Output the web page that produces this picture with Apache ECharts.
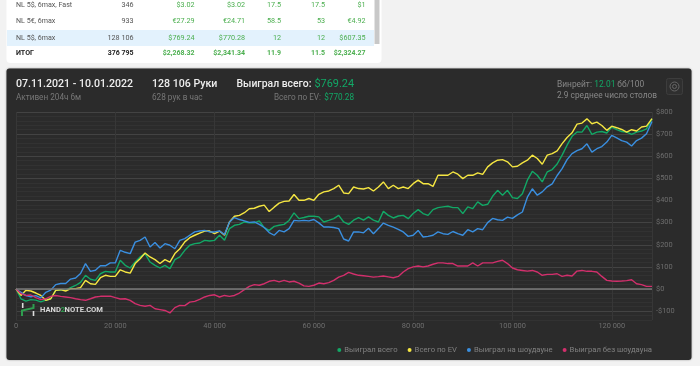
<!DOCTYPE html>
<html><head><meta charset="utf-8">
<style>html,body{margin:0;padding:0;background:#f2f2f2}#c{width:700px;height:366px}</style>
<script src="https://cdn.jsdelivr.net/npm/echarts@6/dist/echarts.min.js"></script>
</head><body><div id="c"></div>
<script>
const hands=[0,1000,2000,3000,4000,5000,6000,7000,8000,9000,
10000,11000,12000,13000,14000,15000,16000,17000,18000,19000,
20000,21000,22000,23000,24000,25000,26000,27000,28000,29000,
30000,31000,32000,33000,34000,35000,36000,37000,38000,39000,
40000,41000,42000,43000,44000,45000,46000,47000,48000,49000,
50000,51000,52000,53000,54000,55000,56000,57000,58000,59000,
60000,61000,62000,63000,64000,65000,66000,67000,68000,69000,
70000,71000,72000,73000,74000,75000,76000,77000,78000,79000,
80000,81000,82000,83000,84000,85000,86000,87000,88000,89000,
90000,91000,92000,93000,94000,95000,96000,97000,98000,99000,
100000,101000,102000,103000,104000,105000,106000,107000,108000,109000,
110000,111000,112000,113000,114000,115000,116000,117000,118000,119000,
120000,121000,122000,123000,124000,125000,126000,127000,128106];
const totalWon=[0,-44,-55,-48,-50,-58,-50,-44,-6,-3,
-6,6,16,30,62,44,39,69,80,77,
77,130,107,95,122,145,160,122,107,95,
107,92,133,145,175,198,205,208,220,217,
220,243,220,273,288,292,303,299,299,308,
277,265,283,288,292,310,344,318,323,329,
329,326,303,310,318,333,303,292,311,323,
311,326,311,303,351,333,321,330,333,318,
341,359,341,333,359,368,371,374,368,368,
341,371,363,394,378,383,419,446,424,446,
413,409,431,492,532,514,484,529,540,565,
605,650,690,710,709,739,699,709,712,705,
732,720,712,709,699,709,714,724,769];
const totalEV=[0,-29,-6,-9,-18,-29,-51,-44,-6,-3,
-9,2,2,6,39,24,21,51,62,57,
57,87,77,72,115,137,163,145,133,115,
133,122,160,182,213,232,243,253,262,262,
250,262,243,303,329,333,345,363,365,374,
379,350,370,388,396,398,427,401,401,409,
401,428,439,443,454,469,434,431,461,454,
452,458,443,461,484,454,469,454,461,454,
476,492,476,476,464,514,514,514,529,519,
499,514,514,525,518,552,570,582,585,575,
552,555,570,582,605,590,564,605,612,624,
657,685,706,745,750,769,747,754,739,717,
736,729,721,709,720,714,732,736,770];
const showdown=[0,-15,-30,-35,-30,-40,-15,-5,20,25,
25,45,50,70,115,80,85,105,105,118,
118,175,166,160,212,220,235,190,210,185,
205,198,182,220,228,243,258,262,265,258,
258,262,246,303,323,314,308,301,303,292,
278,255,243,265,258,273,310,308,310,308,
314,299,280,280,278,273,226,217,258,258,
254,275,250,273,298,288,280,270,258,238,
243,265,235,238,243,258,250,247,260,250,
243,268,258,273,268,300,319,313,310,325,
319,335,348,415,453,424,439,462,475,513,
544,585,612,625,634,656,619,634,644,664,
694,683,671,664,646,671,682,702,757];
const nonShowdown=[0,-21,-29,-27,-39,-48,-44,-33,-29,-33,
-36,-39,-44,-48,-51,-44,-36,-33,-33,-32,
-39,-45,-44,-51,-66,-74,-78,-74,-89,-93,
-97,-108,-84,-74,-75,-59,-56,-47,-36,-29,
-26,-36,-29,-33,-29,-18,-3,12,20,17,
24,35,39,32,39,32,35,27,14,12,
17,27,24,29,39,54,62,75,68,62,
60,57,54,56,59,55,51,57,77,92,
100,104,100,104,112,118,118,115,115,104,
104,104,118,104,118,118,118,125,130,115,
95,87,84,81,84,77,62,66,66,69,
57,62,59,81,84,80,80,77,57,39,
36,35,36,38,42,24,20,12,12];
const seriesNames=['Выиграл всего','Всего по EV','Выиграл на шоудауне','Выиграл без шоудауна'];
const tableRows=[
 ['NL 5$, 6max, Fast','346','$3.02','$3.02','17.5','17.5','$1'],
 ['NL 5€, 6max','933','€27.29','€24.71','58.5','53','€4.92'],
 ['NL 5$, 6max','128 106','$769.24','$770.28','12','12','$607.35'],
 ['ИТОГ','376 795','$2,268.32','$2,341.34','11.9','11.5','$2,324.27']];

const F='Roboto, sans-serif', G='#12a866';
const colX=[133.5,194.5,245,281,325,365.5], rowY=[5,21.5,38,53.5];
const g=[];
const T=(x,y,text,fill,size,o={})=>g.push({type:'text',z:o.z||5,x,y,silent:true,style:{text,fill,font:(o.w||400)+' '+size+'px '+F,textAlign:o.a||'left',textVerticalAlign:'middle'}});
// table card
g.push({type:'rect',z:-10,silent:true,shape:{x:6.5,y:-6,width:375,height:69,r:4},style:{fill:'#fff'}});
g.push({type:'rect',z:-9,silent:true,shape:{x:7,y:30,width:367,height:16},style:{fill:'#e3f2fd'}});
g.push({type:'rect',z:-9,silent:true,shape:{x:374.5,y:0,width:5,height:44},style:{fill:'#c8c8c8'}});
tableRows.forEach((r,i)=>{
  const tot=i===3;
  T(16,rowY[i],r[0],tot?'#222':'#555',7.1,{w:tot?700:400});
  T(colX[0],rowY[i],r[1],tot?'#222':'#555',tot?7:7.2,{a:'right',w:tot?700:400});
  for(let c=2;c<7;c++)T(colX[c-1],rowY[i],r[c],'#4caf50',tot?7:7.2,{a:'right',w:tot?700:400});
});
// dark panel
g.push({type:'rect',z:-10,silent:true,shape:{x:6.5,y:68.5,width:685,height:291.5,r:3},style:{fill:'#2b2b2b',shadowBlur:2,shadowColor:'rgba(0,0,0,.4)'}});
T(16,84.5,'07.11.2021 - 10.01.2022','#eee',10.6,{w:500});
T(16,97.5,'Активен 204ч 6м','#777',8.2);
T(152,84.5,'128 106 Руки','#eee',10.6,{w:500});
T(152,97.5,'628 рук в час','#777',8.2);
T(236.5,84.5,'Выиграл всего:','#eee',10.4,{w:500});
T(354,84.5,'$769.24',G,10.9,{a:'right'});
T(321,97.5,'Всего по EV:','#777',8.2,{a:'right'});
T(354,97.5,'$770.28',G,8.2,{a:'right'});
T(557,84.5,'Винрейт:','#888',8.4);
T(594.3,84.5,'12.01',G,8.4);
T(617.3,84.5,'бб/100','#888',8.4);
T(557,96,'2.9 среднее число столов','#888',8.3);
// settings button
g.push({type:'rect',z:5,silent:true,shape:{x:666.5,y:78.5,width:16,height:16,r:2},style:{fill:'#2f2f2f',stroke:'#3d3d3d'}});
g.push({type:'ring',z:6,silent:true,shape:{cx:674.5,cy:86.5,r:4.5,r0:2},style:{fill:'none',stroke:'#666',lineWidth:1}});
// logo
g.push({type:'polyline',z:6,silent:true,shape:{points:[[22,316],[22,310.5],[33.5,308],[33.5,304]]},style:{stroke:'#2e9e4f',lineWidth:2,fill:'none'}});
g.push({type:'line',z:6,silent:true,shape:{x1:22.7,y1:303,x2:22.7,y2:308},style:{stroke:'#ddd',lineWidth:1.6}});
g.push({type:'line',z:6,silent:true,shape:{x1:33.5,y1:311,x2:33.5,y2:316},style:{stroke:'#ddd',lineWidth:1.6}});
T(40,310.5,'HAND','#d8d8d8',7.6,{w:700,z:6});
T(60.7,310.5,'2','#2e9e4f',7.6,{w:700,z:6});
T(64.6,310.5,'NOTE.COM','#d8d8d8',7.6,{w:700,z:6});

const colors=[G,'#f5e642','#3a8fe0','#d22f6c'];
const lists=[totalWon,totalEV,showdown,nonShowdown];
const minor='#323232', major='#434343';
const chart=echarts.init(document.getElementById('c'),null,{renderer:'canvas'});
chart.setOption({
  animation:false,
  backgroundColor:'transparent',
  graphic:g,
  grid:{left:16,right:48,top:112,bottom:46,containLabel:false},
  legend:{right:43,top:341,icon:'circle',itemWidth:4,itemHeight:4,itemGap:10,
    textStyle:{color:'#808080',fontSize:7.7,fontFamily:F,padding:[0,0,0,-2]},
    data:seriesNames},
  xAxis:{type:'value',min:0,max:128106,interval:20000,
    axisLine:{show:false},axisTick:{show:false},
    axisLabel:{color:'#6e6e6e',fontSize:7.4,fontFamily:F,margin:3,showMaxLabel:false,
      formatter:v=>String(v).replace(/\B(?=(\d{3})+$)/g,' ')},
    splitLine:{show:true,lineStyle:{color:'#373737',width:1}}},
  yAxis:{type:'value',position:'right',min:-140,max:800,interval:20,
    axisLine:{show:false},axisTick:{show:false},
    axisLabel:{color:'#6e6e6e',fontSize:7.4,fontFamily:F,margin:4,
      formatter:v=>v%100!==0?'':(v<0?'-$'+(-v):'$'+v)},
    splitLine:{show:true,lineStyle:{color:[minor,minor,major,minor,minor],width:1}}},
  series:lists.map((d,i)=>({
    name:seriesNames[i],type:'line',showSymbol:false,symbol:'circle',
    itemStyle:{color:colors[i]},lineStyle:{color:colors[i],width:1.4},
    data:hands.map((h,j)=>[h,d[j]]),
    markLine:i===0?{silent:true,symbol:'none',label:{show:false},
      lineStyle:{color:'#7a7a7a',width:1.6,type:'solid'},data:[{yAxis:0}]}:undefined
  }))
});
</script></body></html>
